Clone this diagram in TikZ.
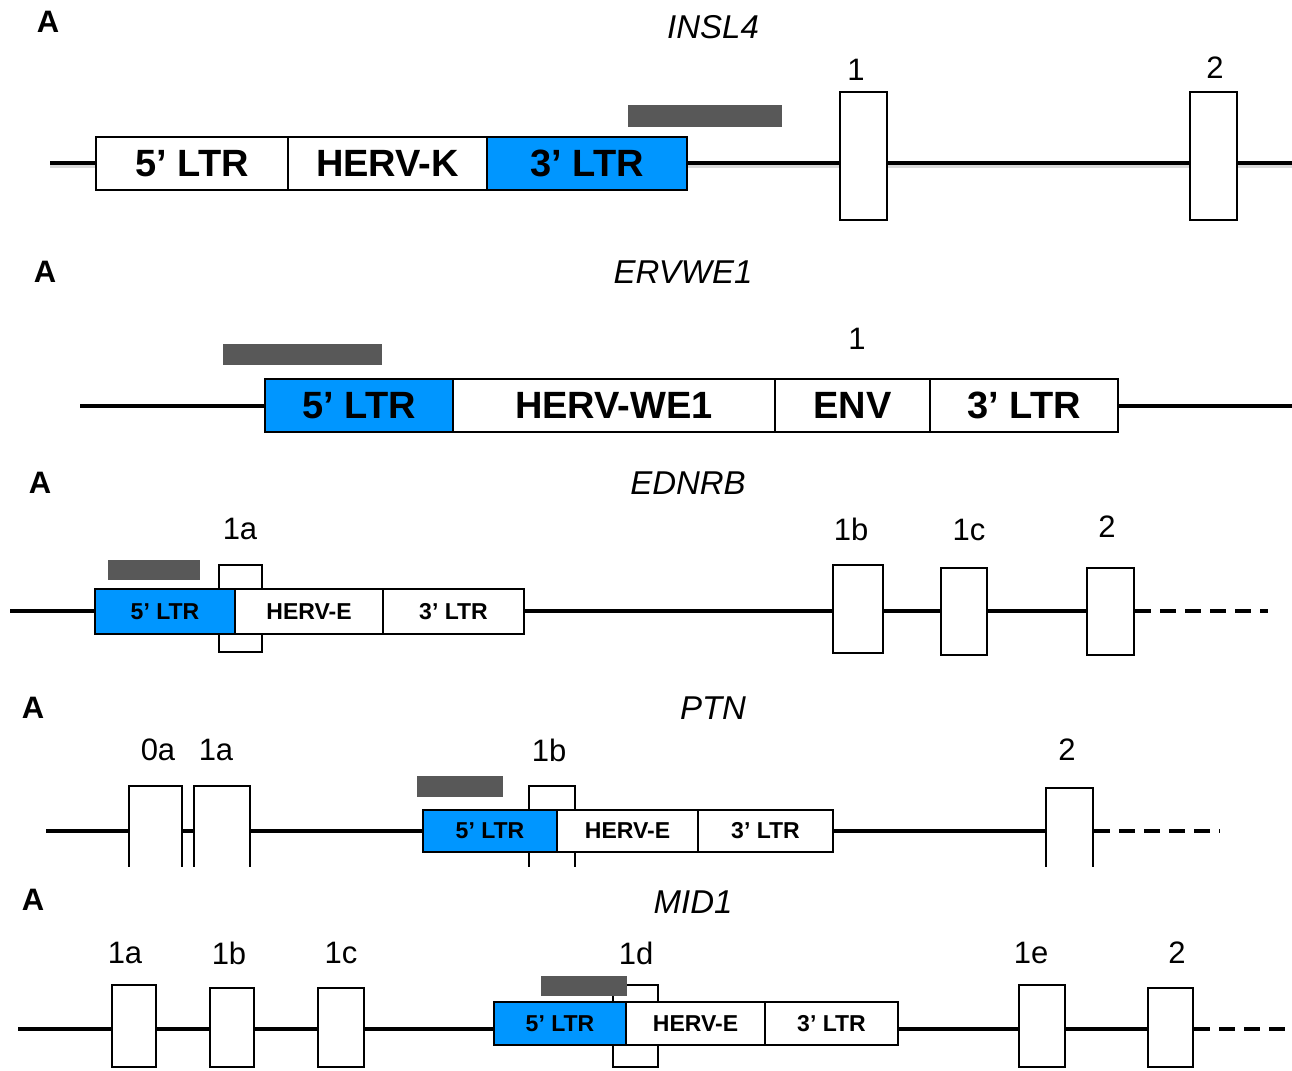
\documentclass[tikz,border=0pt]{standalone}
\usepackage{fontspec}
\setmainfont{Liberation Sans}
\definecolor{ltrblue}{RGB}{0,150,255}
\definecolor{probegrey}{RGB}{88,88,88}
\begin{document}
\begin{tikzpicture}[x=1pt,y=-1pt,
  gline/.style={line width=4pt},
  gdash/.style={line width=4pt, dash pattern=on 16pt off 9pt},
  shadow/.style={line width=4pt, black!15},
  boxbase/.style={draw, line width=2pt, fill=white, inner sep=0pt, outer sep=0pt},
  bigbox/.style={boxbase, font=\fontsize{38}{40}\selectfont\bfseries},
  smallbox/.style={boxbase, font=\fontsize{23}{25}\selectfont\bfseries},
  blue/.style={fill=ltrblue},
  exon/.style={draw, line width=2pt, fill=white, inner sep=0pt},
  probe/.style={fill=probegrey, inner sep=0pt},
  panel/.style={font=\fontsize{31}{33}\selectfont\bfseries, inner sep=0pt},
  gene/.style={font=\fontsize{33}{35}\selectfont\itshape, inner sep=0pt},
  num/.style={font=\fontsize{31}{33}\selectfont, inner sep=0pt}]
\fill[white] (0,0) rectangle (1292,1070);
\useasboundingbox (0,0) rectangle (1292,1070);

% ---------------- Panel 1: INSL4
\node[panel] (p1A) at (48,22) {A};
\node[gene] (p1g) at (713,27) {INSL4};
\coordinate (p1L) at (50,163);
\coordinate (p1R) at (1292,163);
\draw[shadow] ([yshift=-3pt]p1L) -- ([yshift=-3pt]p1R);
\draw[gline] (p1L) -- (p1R);
\node[bigbox, minimum width=192, minimum height=53] (p1a) at (192,163.5) {5’ LTR};
\node[bigbox, minimum width=199, minimum height=53] (p1b) at (387.5,163.5) {HERV-K};
\node[bigbox, blue, minimum width=200, minimum height=53] (p1c) at (587,163.5) {3’ LTR};
\node[probe, minimum width=154, minimum height=22] (p1p) at (705,116) {};
\node[exon, minimum width=47, minimum height=128] (p1e1) at (863.5,156) {};
\node[exon, minimum width=47, minimum height=128] (p1e2) at (1213.5,156) {};
\node[num] (p1n1) at (856,70) {1};
\node[num] (p1n2) at (1215,68) {2};

% ---------------- Panel 2: ERVWE1
\node[panel] (p2A) at (45,272) {A};
\node[gene] (p2g) at (683,272) {ERVWE1};
\coordinate (p2L) at (80,406);
\coordinate (p2R) at (1292,406);
\draw[gline] (p2L) -- (p2R);
\node[probe, minimum width=159, minimum height=21] (p2p) at (302.5,354.5) {};
\node[bigbox, blue, minimum width=188, minimum height=53] (p2a) at (359,405.5) {5’ LTR};
\node[bigbox, minimum width=322, minimum height=53] (p2b) at (614,405.5) {HERV-WE1};
\node[bigbox, minimum width=155, minimum height=53] (p2c) at (852.5,405.5) {ENV};
\node[bigbox, minimum width=188, minimum height=53] (p2d) at (1024,405.5) {3’ LTR};
\node[num] (p2n1) at (857,339) {1};

% ---------------- Panel 3: EDNRB
\node[panel] (p3A) at (40,483) {A};
\node[gene] (p3g) at (688,483) {EDNRB};
\coordinate (p3L) at (10,611);
\coordinate (p3D) at (1268,611);
\node[exon, minimum width=47, minimum height=87] (p3e2) at (1110.5,611.5) {};
\draw[gline] (p3L) -- (p3L -| p3e2.west);
\draw[gdash] (p3L -| p3e2.east) -- (p3D);
\node[exon, minimum width=43, minimum height=87] (p3e1a) at (240.5,608.5) {};
\node[smallbox, blue, minimum width=140, minimum height=45] (p3a) at (165,611.5) {5’ LTR};
\node[smallbox, minimum width=148, minimum height=45] (p3b) at (309,611.5) {HERV-E};
\node[smallbox, minimum width=141, minimum height=45] (p3c) at (453.5,611.5) {3’ LTR};
\node[probe, minimum width=92, minimum height=20] (p3p) at (154,570) {};
\node[exon, minimum width=50, minimum height=88] (p3e1b) at (858,609) {};
\node[exon, minimum width=46, minimum height=87] (p3e1c) at (964,611.5) {};
\node[exon, minimum width=47, minimum height=87] at (1110.5,611.5) {};
\node[num] (p3n1a) at (240,529) {1a};
\node[num] (p3n1b) at (851,529) {1b};
\node[num] (p3n1c) at (969,530) {1c};
\node[num] (p3n2) at (1107,527) {2};

% ---------------- Panel 4: PTN
\node[panel] (p4A) at (33,708) {A};
\node[gene] (p4g) at (713,708) {PTN};
\begin{scope}
\clip (0,680) rectangle (1292,866);
\coordinate (p4L) at (46,831);
\coordinate (p4D) at (1220,831);
\node[exon, minimum width=47, minimum height=102] (p4e2) at (1069.5,839) {};
\draw[gline] (p4L) -- (p4L -| p4e2.west);
\draw[gdash] (p4L -| p4e2.east) -- (p4D);
\node[exon, minimum width=53, minimum height=104] (p4e0a) at (155.5,838) {};
\node[exon, minimum width=56, minimum height=104] (p4e1a) at (222,838) {};
\node[exon, minimum width=46, minimum height=104] (p4e1b) at (552,838) {};
\node[smallbox, blue, minimum width=134, minimum height=42] (p4a) at (490,831) {5’ LTR};
\node[smallbox, minimum width=141, minimum height=42] (p4b) at (627.5,831) {HERV-E};
\node[smallbox, minimum width=135, minimum height=42] (p4c) at (765.5,831) {3’ LTR};
\node[probe, minimum width=86, minimum height=21] (p4p) at (460,786.5) {};
\node[exon, minimum width=47, minimum height=102] at (1069.5,839) {};
\end{scope}
\node[num] (p4n0a) at (158,750) {0a};
\node[num] (p4n1a) at (216,750) {1a};
\node[num] (p4n1b) at (549,750) {1b};
\node[num] (p4n2) at (1067,750) {2};

% ---------------- Panel 5: MID1
\node[panel] (p5A) at (33,900) {A};
\node[gene] (p5g) at (693,902) {MID1};
\coordinate (p5L) at (18,1029);
\coordinate (p5D) at (1292,1029);
\node[exon, minimum width=45, minimum height=79] (p5e2) at (1170.5,1027.5) {};
\draw[gline] (p5L) -- (p5L -| p5e2.west);
\draw[gdash] (p5L -| p5e2.east) -- (p5D);
\node[exon, minimum width=44, minimum height=82] (p5e1a) at (134,1026) {};
\node[exon, minimum width=44, minimum height=79] (p5e1b) at (232,1027.5) {};
\node[exon, minimum width=46, minimum height=79] (p5e1c) at (341,1027.5) {};
\node[exon, minimum width=45, minimum height=82] (p5e1d) at (635.5,1026) {};
\node[smallbox, blue, minimum width=132, minimum height=43] (p5a) at (560,1023.5) {5’ LTR};
\node[smallbox, minimum width=139, minimum height=43] (p5b) at (695.5,1023.5) {HERV-E};
\node[smallbox, minimum width=133, minimum height=43] (p5c) at (831.5,1023.5) {3’ LTR};
\node[probe, minimum width=86, minimum height=20] (p5p) at (584,986) {};
\node[exon, minimum width=46, minimum height=82] (p5e1e) at (1042,1026) {};
\node[exon, minimum width=45, minimum height=79] at (1170.5,1027.5) {};
\node[num] (p5n1a) at (125,953) {1a};
\node[num] (p5n1b) at (229,953) {1b};
\node[num] (p5n1c) at (341,953) {1c};
\node[num] (p5n1d) at (636,953) {1d};
\node[num] (p5n1e) at (1031,953) {1e};
\node[num] (p5n2) at (1177,953) {2};
\end{tikzpicture}
\end{document}
